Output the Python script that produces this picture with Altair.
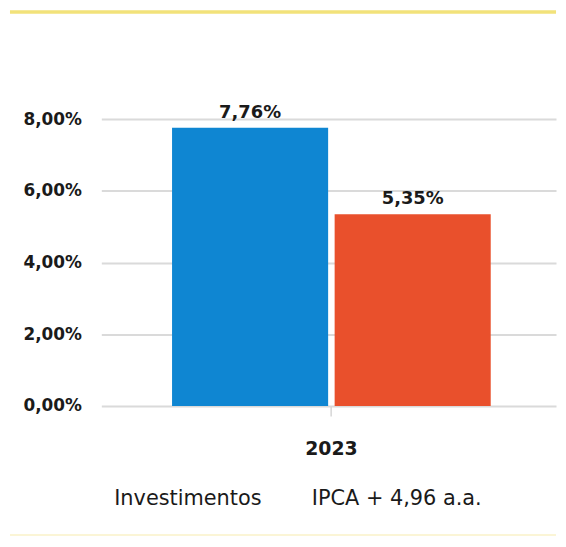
import altair as alt
import pandas as pd

anos = ["2023", "2023"]
series = ["Investimentos", "IPCA + 4,96 a.a."]
valores = [7.76, 5.35]
rotulos = ["7,76%", "5,35%"]
cores = ["#0f86d2", "#e9502c"]

df = pd.DataFrame({"ano": anos, "serie": series, "valor": valores, "rotulo": rotulos})

FONT = "DejaVu Sans"

x_enc = alt.X(
    "ano:N",
    title=None,
    scale=alt.Scale(paddingInner=0, paddingOuter=0.2134, align=0.52),
    axis=alt.Axis(
        labelFont=FONT, labelFontSize=19, labelFontWeight="bold", labelColor="#1a1a1a",
        labelAngle=0, tickSize=10, tickColor="#d6d6d6", tickWidth=1.5,
        domain=False, labelPadding=24,
    ),
)
xoff = alt.XOffset("serie:N", sort=series, scale=alt.Scale(paddingInner=0.04, paddingOuter=0))
y_enc = alt.Y(
    "valor:Q",
    title=None,
    scale=alt.Scale(domain=[0, 8], nice=False),
    axis=alt.Axis(
        values=[0, 2, 4, 6, 8],
        labelExpr="replace(format(datum.value, '.2f'), '.', ',') + '%'",
        labelFont=FONT, labelFontSize=17, labelFontWeight="bold", labelColor="#1a1a1a",
        labelPadding=20, ticks=False, domain=False,
        gridColor="#dadada", gridWidth=2,
    ),
)

bars = alt.Chart(df).mark_bar().encode(
    x=x_enc,
    xOffset=xoff,
    y=y_enc,
    color=alt.Color(
        "serie:N",
        sort=series,
        scale=alt.Scale(domain=series, range=cores),
        legend=alt.Legend(
            title=None, orient="none", legendX=-8, legendY=372, direction="horizontal",
            symbolSize=0, symbolStrokeWidth=0, labelOffset=0, columnPadding=29,
            labelFont=FONT, labelFontSize=21, labelColor="#1a1a1a", labelLimit=400,
        ),
    ),
)

text = alt.Chart(df).mark_text(
    baseline="bottom", dy=-6, font=FONT, fontSize=18, fontWeight="bold", color="#1a1a1a"
).encode(
    x=alt.X("ano:N"),
    xOffset=alt.XOffset("serie:N", sort=series),
    y=alt.Y("valor:Q"),
    text="rotulo:N",
)

top_line = alt.Chart(df).mark_rule(color="#f2e27a", strokeWidth=3).encode(
    x=alt.value(-92), x2=alt.value(458), y=alt.value(-108)
)
bottom_line = alt.Chart(df).mark_rule(color="#fbf5d6", strokeWidth=2).encode(
    x=alt.value(-92), x2=alt.value(458), y=alt.value(419)
)

chart = alt.layer(top_line, bottom_line, bars, text).properties(
    width=458, height=289, padding=0
).configure(background="white").configure_view(stroke=None)

chart.save("out.html", embed_options={"renderer": "svg", "actions": False})
